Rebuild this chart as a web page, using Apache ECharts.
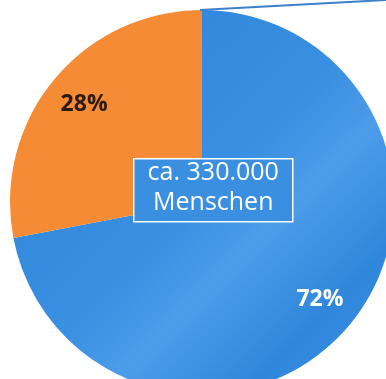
<!DOCTYPE html>
<html>
<head>
<meta charset="utf-8">
<script src="https://cdn.jsdelivr.net/npm/echarts@6/dist/echarts.min.js"></script>
<style>
  html, body { margin: 0; padding: 0; background: #fff; }
  #chart { width: 386px; height: 379px; }
</style>
</head>
<body>
<div id="chart"></div>
<script>
// Anteile
let names = ['Rest', 'Anteil'];
let values = [72, 28];
let colors = ['#2d86db', '#f68b35'];
let labelColors = ['#ffffff', '#2b1a10'];
let centerText = ['ca. 330.000', 'Menschen'];

let blueFill = new echarts.graphic.LinearGradient(0, 0, 1, 1, [
    {offset: 0, color: '#2a82d8'},
    {offset: 0.5, color: '#3a90e2'},
    {offset: 0.62, color: '#4c9de9'},
    {offset: 0.8, color: '#2f87dc'},
    {offset: 1, color: '#3b8fdf'}
]);

let pieData = values.map(function (v, i) {
    return {name: names[i], value: v, itemStyle: {color: i === 0 ? blueFill : colors[i]}};
});
let labelData = values.map(function (v, i) {
    return {name: names[i], value: v, label: {color: labelColors[i]}};
});

let boxW = 159, boxH = 63;
let e1 = echarts.init(document.getElementById('chart'));
e1.setOption({
    backgroundColor: '#ffffff',
    animation: false,
    series: [
        {
            type: 'pie', center: [202, 202], radius: [0, 192], startAngle: 90,
            label: {show: false}, labelLine: {show: false}, silent: true,
            data: pieData
        },
        {
            // nur für die Prozent-Beschriftung
            type: 'pie', center: [202, 202], radius: [108, 192], startAngle: 90,
            itemStyle: {color: 'rgba(0,0,0,0)'}, silent: true,
            label: {
                show: true, position: 'inside',
                fontFamily: 'Open Sans', fontWeight: 'bold', fontSize: 23,
                formatter: function (p) { return p.value + '%'; }
            },
            labelLine: {show: false},
            data: labelData
        }
    ],
    graphic: [
        {
            type: 'line', silent: true, z: 10,
            shape: {x1: 200, y1: 10, x2: 386, y2: 0},
            style: {stroke: '#3d80c9', lineWidth: 2}
        },
        {
            type: 'group', left: 133, top: 158, silent: true, z: 10,
            children: [
                {
                    type: 'rect', z: 10,
                    shape: {x: 0, y: 0, width: boxW, height: boxH},
                    style: {fill: '#3a8fe1', stroke: '#ffffff', lineWidth: 1.5}
                },
                {
                    type: 'text', z: 11, x: boxW / 2, y: 2,
                    style: {text: centerText[0], fill: '#ffffff', font: '25px "Open Sans"', align: 'center'}
                },
                {
                    type: 'text', z: 11, x: boxW / 2, y: 32,
                    style: {text: centerText[1], fill: '#ffffff', font: '25px "Open Sans"', align: 'center'}
                }
            ]
        }
    ]
});
</script>
</body>
</html>
